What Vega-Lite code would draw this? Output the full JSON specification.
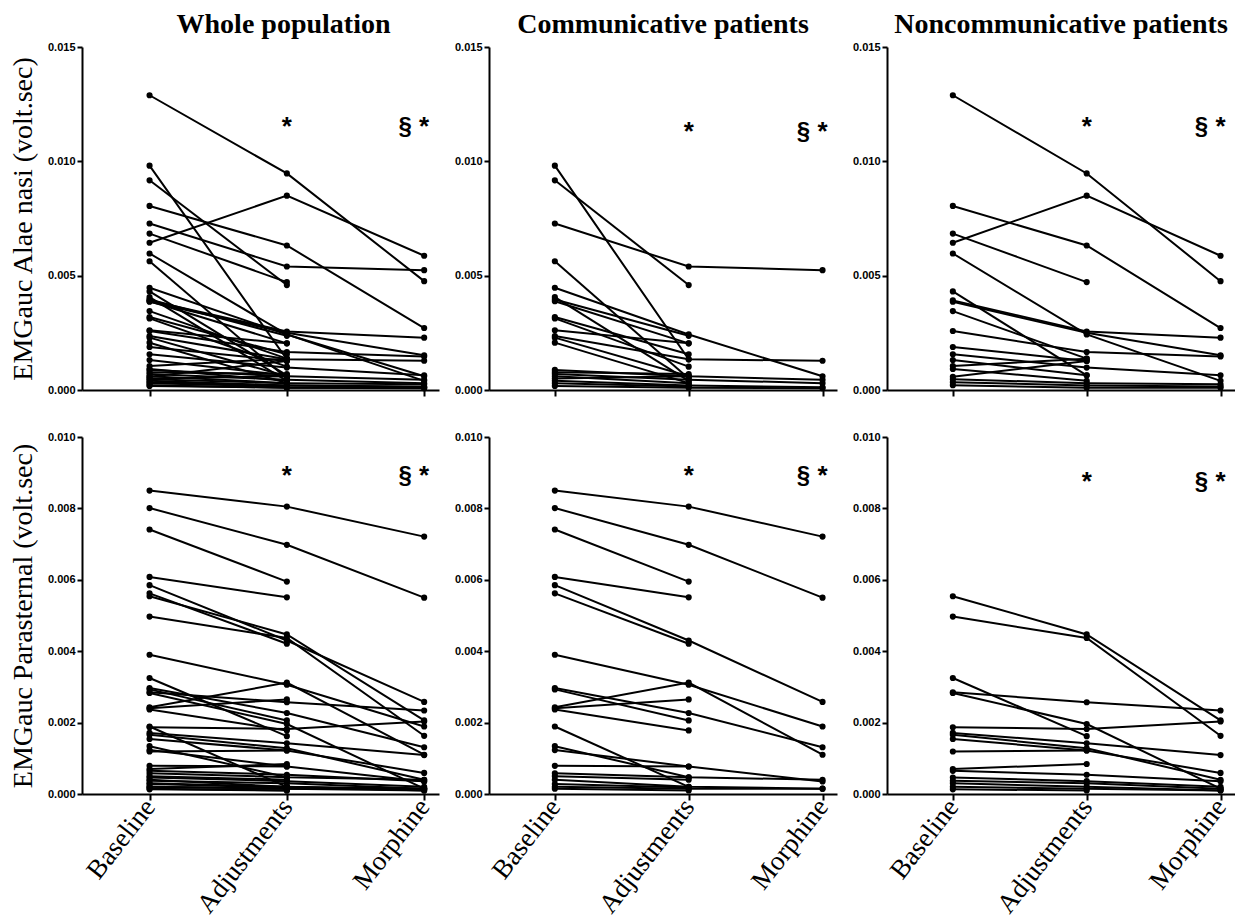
{
"$schema": "https://vega.github.io/schema/vega-lite/v6.json",
"padding": {"left": 9, "top": 11, "right": 0, "bottom": 0},
"background": "white",
"datasets": {
"emg": [
{"muscle":"Alae nasi","group":"Communicative","patient":"C01","phase":"Baseline","value":0.00981},
{"muscle":"Alae nasi","group":"Communicative","patient":"C01","phase":"Adjustments","value":0.00134},
{"muscle":"Alae nasi","group":"Communicative","patient":"C01","phase":"Morphine","value":0.00128},
{"muscle":"Alae nasi","group":"Communicative","patient":"C02","phase":"Baseline","value":0.00917},
{"muscle":"Alae nasi","group":"Communicative","patient":"C02","phase":"Adjustments","value":0.00459},
{"muscle":"Alae nasi","group":"Communicative","patient":"C03","phase":"Baseline","value":0.00728},
{"muscle":"Alae nasi","group":"Communicative","patient":"C03","phase":"Adjustments","value":0.0054},
{"muscle":"Alae nasi","group":"Communicative","patient":"C03","phase":"Morphine","value":0.00524},
{"muscle":"Alae nasi","group":"Communicative","patient":"C04","phase":"Baseline","value":0.00563},
{"muscle":"Alae nasi","group":"Communicative","patient":"C04","phase":"Adjustments","value":0.0005},
{"muscle":"Alae nasi","group":"Communicative","patient":"C05","phase":"Baseline","value":0.00447},
{"muscle":"Alae nasi","group":"Communicative","patient":"C05","phase":"Adjustments","value":0.00243},
{"muscle":"Alae nasi","group":"Communicative","patient":"C05","phase":"Morphine","value":0.0006},
{"muscle":"Alae nasi","group":"Communicative","patient":"C06","phase":"Baseline","value":0.00406},
{"muscle":"Alae nasi","group":"Communicative","patient":"C06","phase":"Adjustments","value":0.0004},
{"muscle":"Alae nasi","group":"Communicative","patient":"C07","phase":"Baseline","value":0.00396},
{"muscle":"Alae nasi","group":"Communicative","patient":"C07","phase":"Adjustments","value":0.00237},
{"muscle":"Alae nasi","group":"Communicative","patient":"C08","phase":"Baseline","value":0.00388},
{"muscle":"Alae nasi","group":"Communicative","patient":"C08","phase":"Adjustments","value":0.00204},
{"muscle":"Alae nasi","group":"Communicative","patient":"C09","phase":"Baseline","value":0.00319},
{"muscle":"Alae nasi","group":"Communicative","patient":"C09","phase":"Adjustments","value":0.00156},
{"muscle":"Alae nasi","group":"Communicative","patient":"C10","phase":"Baseline","value":0.00313},
{"muscle":"Alae nasi","group":"Communicative","patient":"C10","phase":"Adjustments","value":0.00102},
{"muscle":"Alae nasi","group":"Communicative","patient":"C11","phase":"Baseline","value":0.00261},
{"muscle":"Alae nasi","group":"Communicative","patient":"C11","phase":"Adjustments","value":0.00204},
{"muscle":"Alae nasi","group":"Communicative","patient":"C12","phase":"Baseline","value":0.00236},
{"muscle":"Alae nasi","group":"Communicative","patient":"C12","phase":"Adjustments","value":0.00134},
{"muscle":"Alae nasi","group":"Communicative","patient":"C13","phase":"Baseline","value":0.00229},
{"muscle":"Alae nasi","group":"Communicative","patient":"C13","phase":"Adjustments","value":0.0006},
{"muscle":"Alae nasi","group":"Communicative","patient":"C14","phase":"Baseline","value":0.00207},
{"muscle":"Alae nasi","group":"Communicative","patient":"C14","phase":"Adjustments","value":0.0003},
{"muscle":"Alae nasi","group":"Communicative","patient":"C15","phase":"Baseline","value":0.00088},
{"muscle":"Alae nasi","group":"Communicative","patient":"C15","phase":"Adjustments","value":0.0006},
{"muscle":"Alae nasi","group":"Communicative","patient":"C15","phase":"Morphine","value":0.00045},
{"muscle":"Alae nasi","group":"Communicative","patient":"C16","phase":"Baseline","value":0.00078},
{"muscle":"Alae nasi","group":"Communicative","patient":"C16","phase":"Adjustments","value":0.0007},
{"muscle":"Alae nasi","group":"Communicative","patient":"C17","phase":"Baseline","value":0.0007},
{"muscle":"Alae nasi","group":"Communicative","patient":"C17","phase":"Adjustments","value":0.00045},
{"muscle":"Alae nasi","group":"Communicative","patient":"C17","phase":"Morphine","value":0.0003},
{"muscle":"Alae nasi","group":"Communicative","patient":"C18","phase":"Baseline","value":0.0006},
{"muscle":"Alae nasi","group":"Communicative","patient":"C18","phase":"Adjustments","value":0.0003},
{"muscle":"Alae nasi","group":"Communicative","patient":"C19","phase":"Baseline","value":0.0005},
{"muscle":"Alae nasi","group":"Communicative","patient":"C19","phase":"Adjustments","value":0.0006},
{"muscle":"Alae nasi","group":"Communicative","patient":"C20","phase":"Baseline","value":0.0004},
{"muscle":"Alae nasi","group":"Communicative","patient":"C20","phase":"Adjustments","value":0.0002},
{"muscle":"Alae nasi","group":"Communicative","patient":"C20","phase":"Morphine","value":0.00012},
{"muscle":"Alae nasi","group":"Communicative","patient":"C21","phase":"Baseline","value":0.0003},
{"muscle":"Alae nasi","group":"Communicative","patient":"C21","phase":"Adjustments","value":0.00015},
{"muscle":"Alae nasi","group":"Communicative","patient":"C22","phase":"Baseline","value":0.00018},
{"muscle":"Alae nasi","group":"Communicative","patient":"C22","phase":"Adjustments","value":0.0001},
{"muscle":"Alae nasi","group":"Communicative","patient":"C22","phase":"Morphine","value":0.00008},
{"muscle":"Alae nasi","group":"Noncommunicative","patient":"N01","phase":"Baseline","value":0.01289},
{"muscle":"Alae nasi","group":"Noncommunicative","patient":"N01","phase":"Adjustments","value":0.00947},
{"muscle":"Alae nasi","group":"Noncommunicative","patient":"N01","phase":"Morphine","value":0.00476},
{"muscle":"Alae nasi","group":"Noncommunicative","patient":"N02","phase":"Baseline","value":0.00644},
{"muscle":"Alae nasi","group":"Noncommunicative","patient":"N02","phase":"Adjustments","value":0.0085},
{"muscle":"Alae nasi","group":"Noncommunicative","patient":"N02","phase":"Morphine","value":0.00587},
{"muscle":"Alae nasi","group":"Noncommunicative","patient":"N03","phase":"Baseline","value":0.00805},
{"muscle":"Alae nasi","group":"Noncommunicative","patient":"N03","phase":"Adjustments","value":0.00632},
{"muscle":"Alae nasi","group":"Noncommunicative","patient":"N03","phase":"Morphine","value":0.00271},
{"muscle":"Alae nasi","group":"Noncommunicative","patient":"N04","phase":"Baseline","value":0.00684},
{"muscle":"Alae nasi","group":"Noncommunicative","patient":"N04","phase":"Adjustments","value":0.00472},
{"muscle":"Alae nasi","group":"Noncommunicative","patient":"N05","phase":"Baseline","value":0.00597},
{"muscle":"Alae nasi","group":"Noncommunicative","patient":"N05","phase":"Adjustments","value":0.00243},
{"muscle":"Alae nasi","group":"Noncommunicative","patient":"N05","phase":"Morphine","value":0.0004},
{"muscle":"Alae nasi","group":"Noncommunicative","patient":"N06","phase":"Baseline","value":0.00431},
{"muscle":"Alae nasi","group":"Noncommunicative","patient":"N06","phase":"Adjustments","value":0.00064},
{"muscle":"Alae nasi","group":"Noncommunicative","patient":"N07","phase":"Baseline","value":0.00392},
{"muscle":"Alae nasi","group":"Noncommunicative","patient":"N07","phase":"Adjustments","value":0.00256},
{"muscle":"Alae nasi","group":"Noncommunicative","patient":"N07","phase":"Morphine","value":0.00229},
{"muscle":"Alae nasi","group":"Noncommunicative","patient":"N08","phase":"Baseline","value":0.00386},
{"muscle":"Alae nasi","group":"Noncommunicative","patient":"N08","phase":"Adjustments","value":0.0025},
{"muscle":"Alae nasi","group":"Noncommunicative","patient":"N08","phase":"Morphine","value":0.00152},
{"muscle":"Alae nasi","group":"Noncommunicative","patient":"N09","phase":"Baseline","value":0.00345},
{"muscle":"Alae nasi","group":"Noncommunicative","patient":"N09","phase":"Adjustments","value":0.00137},
{"muscle":"Alae nasi","group":"Noncommunicative","patient":"N10","phase":"Baseline","value":0.00258},
{"muscle":"Alae nasi","group":"Noncommunicative","patient":"N10","phase":"Adjustments","value":0.00166},
{"muscle":"Alae nasi","group":"Noncommunicative","patient":"N10","phase":"Morphine","value":0.00147},
{"muscle":"Alae nasi","group":"Noncommunicative","patient":"N11","phase":"Baseline","value":0.00188},
{"muscle":"Alae nasi","group":"Noncommunicative","patient":"N11","phase":"Adjustments","value":0.00127},
{"muscle":"Alae nasi","group":"Noncommunicative","patient":"N12","phase":"Baseline","value":0.00156},
{"muscle":"Alae nasi","group":"Noncommunicative","patient":"N12","phase":"Adjustments","value":0.00098},
{"muscle":"Alae nasi","group":"Noncommunicative","patient":"N12","phase":"Morphine","value":0.00064},
{"muscle":"Alae nasi","group":"Noncommunicative","patient":"N13","phase":"Baseline","value":0.00131},
{"muscle":"Alae nasi","group":"Noncommunicative","patient":"N13","phase":"Adjustments","value":0.00064},
{"muscle":"Alae nasi","group":"Noncommunicative","patient":"N14","phase":"Baseline","value":0.00105},
{"muscle":"Alae nasi","group":"Noncommunicative","patient":"N14","phase":"Adjustments","value":0.00137},
{"muscle":"Alae nasi","group":"Noncommunicative","patient":"N15","phase":"Baseline","value":0.00092},
{"muscle":"Alae nasi","group":"Noncommunicative","patient":"N15","phase":"Adjustments","value":0.0004},
{"muscle":"Alae nasi","group":"Noncommunicative","patient":"N16","phase":"Baseline","value":0.00058},
{"muscle":"Alae nasi","group":"Noncommunicative","patient":"N16","phase":"Adjustments","value":0.00127},
{"muscle":"Alae nasi","group":"Noncommunicative","patient":"N17","phase":"Baseline","value":0.00047},
{"muscle":"Alae nasi","group":"Noncommunicative","patient":"N17","phase":"Adjustments","value":0.0003},
{"muscle":"Alae nasi","group":"Noncommunicative","patient":"N17","phase":"Morphine","value":0.00025},
{"muscle":"Alae nasi","group":"Noncommunicative","patient":"N18","phase":"Baseline","value":0.00034},
{"muscle":"Alae nasi","group":"Noncommunicative","patient":"N18","phase":"Adjustments","value":0.0002},
{"muscle":"Alae nasi","group":"Noncommunicative","patient":"N18","phase":"Morphine","value":0.00015},
{"muscle":"Alae nasi","group":"Noncommunicative","patient":"N19","phase":"Baseline","value":0.00021},
{"muscle":"Alae nasi","group":"Noncommunicative","patient":"N19","phase":"Adjustments","value":0.0001},
{"muscle":"Alae nasi","group":"Noncommunicative","patient":"N19","phase":"Morphine","value":0.0001},
{"muscle":"Parasternal","group":"Communicative","patient":"C01","phase":"Baseline","value":0.0085},
{"muscle":"Parasternal","group":"Communicative","patient":"C01","phase":"Adjustments","value":0.00805},
{"muscle":"Parasternal","group":"Communicative","patient":"C01","phase":"Morphine","value":0.00721},
{"muscle":"Parasternal","group":"Communicative","patient":"C02","phase":"Baseline","value":0.00801},
{"muscle":"Parasternal","group":"Communicative","patient":"C02","phase":"Adjustments","value":0.00698},
{"muscle":"Parasternal","group":"Communicative","patient":"C02","phase":"Morphine","value":0.0055},
{"muscle":"Parasternal","group":"Communicative","patient":"C03","phase":"Baseline","value":0.00741},
{"muscle":"Parasternal","group":"Communicative","patient":"C03","phase":"Adjustments","value":0.00595},
{"muscle":"Parasternal","group":"Communicative","patient":"C04","phase":"Baseline","value":0.00608},
{"muscle":"Parasternal","group":"Communicative","patient":"C04","phase":"Adjustments","value":0.00551},
{"muscle":"Parasternal","group":"Communicative","patient":"C05","phase":"Baseline","value":0.00585},
{"muscle":"Parasternal","group":"Communicative","patient":"C05","phase":"Adjustments","value":0.0043},
{"muscle":"Parasternal","group":"Communicative","patient":"C05","phase":"Morphine","value":0.00258},
{"muscle":"Parasternal","group":"Communicative","patient":"C06","phase":"Baseline","value":0.00562},
{"muscle":"Parasternal","group":"Communicative","patient":"C06","phase":"Adjustments","value":0.00421},
{"muscle":"Parasternal","group":"Communicative","patient":"C07","phase":"Baseline","value":0.0039},
{"muscle":"Parasternal","group":"Communicative","patient":"C07","phase":"Adjustments","value":0.00306},
{"muscle":"Parasternal","group":"Communicative","patient":"C07","phase":"Morphine","value":0.00189},
{"muscle":"Parasternal","group":"Communicative","patient":"C08","phase":"Baseline","value":0.00297},
{"muscle":"Parasternal","group":"Communicative","patient":"C08","phase":"Adjustments","value":0.00227},
{"muscle":"Parasternal","group":"Communicative","patient":"C08","phase":"Morphine","value":0.00131},
{"muscle":"Parasternal","group":"Communicative","patient":"C09","phase":"Baseline","value":0.00293},
{"muscle":"Parasternal","group":"Communicative","patient":"C09","phase":"Adjustments","value":0.00206},
{"muscle":"Parasternal","group":"Communicative","patient":"C10","phase":"Baseline","value":0.00243},
{"muscle":"Parasternal","group":"Communicative","patient":"C10","phase":"Adjustments","value":0.00312},
{"muscle":"Parasternal","group":"Communicative","patient":"C10","phase":"Morphine","value":0.0011},
{"muscle":"Parasternal","group":"Communicative","patient":"C11","phase":"Baseline","value":0.0024},
{"muscle":"Parasternal","group":"Communicative","patient":"C11","phase":"Adjustments","value":0.00265},
{"muscle":"Parasternal","group":"Communicative","patient":"C12","phase":"Baseline","value":0.00237},
{"muscle":"Parasternal","group":"Communicative","patient":"C12","phase":"Adjustments","value":0.00178},
{"muscle":"Parasternal","group":"Communicative","patient":"C13","phase":"Baseline","value":0.00189},
{"muscle":"Parasternal","group":"Communicative","patient":"C13","phase":"Adjustments","value":0.0002},
{"muscle":"Parasternal","group":"Communicative","patient":"C14","phase":"Baseline","value":0.00134},
{"muscle":"Parasternal","group":"Communicative","patient":"C14","phase":"Adjustments","value":0.00047},
{"muscle":"Parasternal","group":"Communicative","patient":"C14","phase":"Morphine","value":0.0004},
{"muscle":"Parasternal","group":"Communicative","patient":"C15","phase":"Baseline","value":0.00123},
{"muscle":"Parasternal","group":"Communicative","patient":"C15","phase":"Adjustments","value":0.00077},
{"muscle":"Parasternal","group":"Communicative","patient":"C16","phase":"Baseline","value":0.00079},
{"muscle":"Parasternal","group":"Communicative","patient":"C16","phase":"Adjustments","value":0.00077},
{"muscle":"Parasternal","group":"Communicative","patient":"C16","phase":"Morphine","value":0.00035},
{"muscle":"Parasternal","group":"Communicative","patient":"C17","phase":"Baseline","value":0.00058},
{"muscle":"Parasternal","group":"Communicative","patient":"C17","phase":"Adjustments","value":0.00047},
{"muscle":"Parasternal","group":"Communicative","patient":"C18","phase":"Baseline","value":0.0005},
{"muscle":"Parasternal","group":"Communicative","patient":"C18","phase":"Adjustments","value":0.0004},
{"muscle":"Parasternal","group":"Communicative","patient":"C19","phase":"Baseline","value":0.0004},
{"muscle":"Parasternal","group":"Communicative","patient":"C19","phase":"Adjustments","value":0.0002},
{"muscle":"Parasternal","group":"Communicative","patient":"C19","phase":"Morphine","value":0.00015},
{"muscle":"Parasternal","group":"Communicative","patient":"C20","phase":"Baseline","value":0.00028},
{"muscle":"Parasternal","group":"Communicative","patient":"C20","phase":"Adjustments","value":0.00018},
{"muscle":"Parasternal","group":"Communicative","patient":"C21","phase":"Baseline","value":0.0002},
{"muscle":"Parasternal","group":"Communicative","patient":"C21","phase":"Adjustments","value":0.00015},
{"muscle":"Parasternal","group":"Communicative","patient":"C21","phase":"Morphine","value":0.00015},
{"muscle":"Parasternal","group":"Communicative","patient":"C22","phase":"Baseline","value":0.00015},
{"muscle":"Parasternal","group":"Communicative","patient":"C22","phase":"Adjustments","value":0.0001},
{"muscle":"Parasternal","group":"Noncommunicative","patient":"N01","phase":"Baseline","value":0.00554},
{"muscle":"Parasternal","group":"Noncommunicative","patient":"N01","phase":"Adjustments","value":0.00447},
{"muscle":"Parasternal","group":"Noncommunicative","patient":"N01","phase":"Morphine","value":0.00206},
{"muscle":"Parasternal","group":"Noncommunicative","patient":"N02","phase":"Baseline","value":0.00497},
{"muscle":"Parasternal","group":"Noncommunicative","patient":"N02","phase":"Adjustments","value":0.00437},
{"muscle":"Parasternal","group":"Noncommunicative","patient":"N02","phase":"Morphine","value":0.00163},
{"muscle":"Parasternal","group":"Noncommunicative","patient":"N03","phase":"Baseline","value":0.00325},
{"muscle":"Parasternal","group":"Noncommunicative","patient":"N03","phase":"Adjustments","value":0.00162},
{"muscle":"Parasternal","group":"Noncommunicative","patient":"N04","phase":"Baseline","value":0.00285},
{"muscle":"Parasternal","group":"Noncommunicative","patient":"N04","phase":"Adjustments","value":0.00257},
{"muscle":"Parasternal","group":"Noncommunicative","patient":"N04","phase":"Morphine","value":0.00234},
{"muscle":"Parasternal","group":"Noncommunicative","patient":"N05","phase":"Baseline","value":0.00283},
{"muscle":"Parasternal","group":"Noncommunicative","patient":"N05","phase":"Adjustments","value":0.00196},
{"muscle":"Parasternal","group":"Noncommunicative","patient":"N05","phase":"Morphine","value":0.00015},
{"muscle":"Parasternal","group":"Noncommunicative","patient":"N06","phase":"Baseline","value":0.00187},
{"muscle":"Parasternal","group":"Noncommunicative","patient":"N06","phase":"Adjustments","value":0.00182},
{"muscle":"Parasternal","group":"Noncommunicative","patient":"N06","phase":"Morphine","value":0.00203},
{"muscle":"Parasternal","group":"Noncommunicative","patient":"N07","phase":"Baseline","value":0.00171},
{"muscle":"Parasternal","group":"Noncommunicative","patient":"N07","phase":"Adjustments","value":0.00142},
{"muscle":"Parasternal","group":"Noncommunicative","patient":"N07","phase":"Morphine","value":0.00109},
{"muscle":"Parasternal","group":"Noncommunicative","patient":"N08","phase":"Baseline","value":0.00166},
{"muscle":"Parasternal","group":"Noncommunicative","patient":"N08","phase":"Adjustments","value":0.00128},
{"muscle":"Parasternal","group":"Noncommunicative","patient":"N08","phase":"Morphine","value":0.0004},
{"muscle":"Parasternal","group":"Noncommunicative","patient":"N09","phase":"Baseline","value":0.00154},
{"muscle":"Parasternal","group":"Noncommunicative","patient":"N09","phase":"Adjustments","value":0.00122},
{"muscle":"Parasternal","group":"Noncommunicative","patient":"N09","phase":"Morphine","value":0.00059},
{"muscle":"Parasternal","group":"Noncommunicative","patient":"N10","phase":"Baseline","value":0.00119},
{"muscle":"Parasternal","group":"Noncommunicative","patient":"N10","phase":"Adjustments","value":0.00122},
{"muscle":"Parasternal","group":"Noncommunicative","patient":"N11","phase":"Baseline","value":0.0007},
{"muscle":"Parasternal","group":"Noncommunicative","patient":"N11","phase":"Adjustments","value":0.00084},
{"muscle":"Parasternal","group":"Noncommunicative","patient":"N12","phase":"Baseline","value":0.00065},
{"muscle":"Parasternal","group":"Noncommunicative","patient":"N12","phase":"Adjustments","value":0.00054},
{"muscle":"Parasternal","group":"Noncommunicative","patient":"N12","phase":"Morphine","value":0.00036},
{"muscle":"Parasternal","group":"Noncommunicative","patient":"N13","phase":"Baseline","value":0.00046},
{"muscle":"Parasternal","group":"Noncommunicative","patient":"N13","phase":"Adjustments","value":0.00036},
{"muscle":"Parasternal","group":"Noncommunicative","patient":"N13","phase":"Morphine","value":0.0002},
{"muscle":"Parasternal","group":"Noncommunicative","patient":"N14","phase":"Baseline","value":0.00037},
{"muscle":"Parasternal","group":"Noncommunicative","patient":"N14","phase":"Adjustments","value":0.0003},
{"muscle":"Parasternal","group":"Noncommunicative","patient":"N14","phase":"Morphine","value":0.00015},
{"muscle":"Parasternal","group":"Noncommunicative","patient":"N15","phase":"Baseline","value":0.0003},
{"muscle":"Parasternal","group":"Noncommunicative","patient":"N15","phase":"Adjustments","value":0.0002},
{"muscle":"Parasternal","group":"Noncommunicative","patient":"N15","phase":"Morphine","value":0.0001},
{"muscle":"Parasternal","group":"Noncommunicative","patient":"N16","phase":"Baseline","value":0.0002},
{"muscle":"Parasternal","group":"Noncommunicative","patient":"N16","phase":"Adjustments","value":0.00015},
{"muscle":"Parasternal","group":"Noncommunicative","patient":"N16","phase":"Morphine","value":0.0001},
{"muscle":"Parasternal","group":"Noncommunicative","patient":"N17","phase":"Baseline","value":0.00013},
{"muscle":"Parasternal","group":"Noncommunicative","patient":"N17","phase":"Adjustments","value":0.0001}
]
},
"spacing": 34,
"resolve": {"scale": {"x": "independent", "y": "independent"}},
"vconcat": [
{
"spacing": 15,
"resolve": {"scale": {"x": "independent", "y": "independent"}},
"hconcat": [
{
"width": 357, "height": 343,
"title": {"text": "Whole population", "dx": 23},
"layer": [
{"data": {"name": "emg"}, "transform": [{"filter": "datum.muscle === 'Alae nasi'"}],
 "mark": {"type": "line", "color": "black", "strokeWidth": 2},
 "encoding": {
  "x": {"field": "phase", "type": "ordinal", "scale": {"type": "point", "domain": ["Baseline", "Adjustments", "Morphine"], "padding": 0.3, "align": 0.82}, "axis": {"labels": false, "title": null, "tickSize": 6}},
  "y": {"field": "value", "type": "quantitative", "scale": {"domain": [0, 0.015], "nice": false}, "axis": {"values": [0, 0.005, 0.01, 0.015], "format": ".3f", "title": "EMGauc Alae nasi (volt.sec)"}},
  "detail": {"field": "patient", "type": "nominal"}}},
{"data": {"name": "emg"}, "transform": [{"filter": "datum.muscle === 'Alae nasi'"}],
 "mark": {"type": "point", "filled": true, "color": "black", "size": 38, "opacity": 1},
 "encoding": {
  "x": {"field": "phase", "type": "ordinal"},
  "y": {"field": "value", "type": "quantitative"}}},
{"data": {"values": [{"phase": "Adjustments", "label": "*"}, {"phase": "Morphine", "label": "*"}]},
 "mark": {"type": "text", "font": "Liberation Sans", "fontWeight": "bold", "fontSize": 26, "color": "black", "baseline": "middle"},
 "encoding": {"x": {"field": "phase", "type": "ordinal"}, "y": {"datum": 0.0115, "type": "quantitative"}, "text": {"field": "label"}}},
{"data": {"values": [{"phase": "Morphine", "label": "§"}]},
 "mark": {"type": "text", "font": "Liberation Sans", "fontWeight": "bold", "fontSize": 24, "color": "black", "baseline": "middle", "dx": -19},
 "encoding": {"x": {"field": "phase", "type": "ordinal"}, "y": {"datum": 0.0115, "type": "quantitative"}, "text": {"field": "label"}}}
]
},
{
"width": 348, "height": 343,
"title": {"text": "Communicative patients"},
"layer": [
{"data": {"name": "emg"}, "transform": [{"filter": "datum.muscle === 'Alae nasi' && datum.group === 'Communicative'"}],
 "mark": {"type": "line", "color": "black", "strokeWidth": 2},
 "encoding": {
  "x": {"field": "phase", "type": "ordinal", "scale": {"type": "point", "domain": ["Baseline", "Adjustments", "Morphine"], "padding": 0.3, "align": 0.82}, "axis": {"labels": false, "title": null, "tickSize": 6}},
  "y": {"field": "value", "type": "quantitative", "scale": {"domain": [0, 0.015], "nice": false}, "axis": {"values": [0, 0.005, 0.01, 0.015], "format": ".3f", "title": null}},
  "detail": {"field": "patient", "type": "nominal"}}},
{"data": {"name": "emg"}, "transform": [{"filter": "datum.muscle === 'Alae nasi' && datum.group === 'Communicative'"}],
 "mark": {"type": "point", "filled": true, "color": "black", "size": 38, "opacity": 1},
 "encoding": {
  "x": {"field": "phase", "type": "ordinal"},
  "y": {"field": "value", "type": "quantitative"}}},
{"data": {"values": [{"phase": "Adjustments", "label": "*"}, {"phase": "Morphine", "label": "*"}]},
 "mark": {"type": "text", "font": "Liberation Sans", "fontWeight": "bold", "fontSize": 26, "color": "black", "baseline": "middle"},
 "encoding": {"x": {"field": "phase", "type": "ordinal"}, "y": {"datum": 0.0113, "type": "quantitative"}, "text": {"field": "label"}}},
{"data": {"values": [{"phase": "Morphine", "label": "§"}]},
 "mark": {"type": "text", "font": "Liberation Sans", "fontWeight": "bold", "fontSize": 24, "color": "black", "baseline": "middle", "dx": -19},
 "encoding": {"x": {"field": "phase", "type": "ordinal"}, "y": {"datum": 0.0113, "type": "quantitative"}, "text": {"field": "label"}}}
]
},
{
"width": 348, "height": 343,
"title": {"text": "Noncommunicative patients"},
"layer": [
{"data": {"name": "emg"}, "transform": [{"filter": "datum.muscle === 'Alae nasi' && datum.group === 'Noncommunicative'"}],
 "mark": {"type": "line", "color": "black", "strokeWidth": 2},
 "encoding": {
  "x": {"field": "phase", "type": "ordinal", "scale": {"type": "point", "domain": ["Baseline", "Adjustments", "Morphine"], "padding": 0.3, "align": 0.82}, "axis": {"labels": false, "title": null, "tickSize": 6}},
  "y": {"field": "value", "type": "quantitative", "scale": {"domain": [0, 0.015], "nice": false}, "axis": {"values": [0, 0.005, 0.01, 0.015], "format": ".3f", "title": null}},
  "detail": {"field": "patient", "type": "nominal"}}},
{"data": {"name": "emg"}, "transform": [{"filter": "datum.muscle === 'Alae nasi' && datum.group === 'Noncommunicative'"}],
 "mark": {"type": "point", "filled": true, "color": "black", "size": 38, "opacity": 1},
 "encoding": {
  "x": {"field": "phase", "type": "ordinal"},
  "y": {"field": "value", "type": "quantitative"}}},
{"data": {"values": [{"phase": "Adjustments", "label": "*"}, {"phase": "Morphine", "label": "*"}]},
 "mark": {"type": "text", "font": "Liberation Sans", "fontWeight": "bold", "fontSize": 26, "color": "black", "baseline": "middle"},
 "encoding": {"x": {"field": "phase", "type": "ordinal"}, "y": {"datum": 0.0115, "type": "quantitative"}, "text": {"field": "label"}}},
{"data": {"values": [{"phase": "Morphine", "label": "§"}]},
 "mark": {"type": "text", "font": "Liberation Sans", "fontWeight": "bold", "fontSize": 24, "color": "black", "baseline": "middle", "dx": -19},
 "encoding": {"x": {"field": "phase", "type": "ordinal"}, "y": {"datum": 0.0115, "type": "quantitative"}, "text": {"field": "label"}}}
]
}
]
},
{
"spacing": 15,
"resolve": {"scale": {"x": "independent", "y": "independent"}},
"hconcat": [
{
"width": 357, "height": 357,
"layer": [
{"data": {"name": "emg"}, "transform": [{"filter": "datum.muscle === 'Parasternal'"}],
 "mark": {"type": "line", "color": "black", "strokeWidth": 2},
 "encoding": {
  "x": {"field": "phase", "type": "ordinal", "scale": {"type": "point", "domain": ["Baseline", "Adjustments", "Morphine"], "padding": 0.3, "align": 0.82}, "axis": {"title": null, "tickSize": 6, "labelAngle": -52, "labelFont": "Liberation Serif", "labelFontWeight": "normal", "labelFontSize": 27, "labelPadding": 2}},
  "y": {"field": "value", "type": "quantitative", "scale": {"domain": [0, 0.01], "nice": false}, "axis": {"values": [0, 0.002, 0.004, 0.006, 0.008, 0.01], "format": ".3f", "title": "EMGauc Parasternal (volt.sec)"}},
  "detail": {"field": "patient", "type": "nominal"}}},
{"data": {"name": "emg"}, "transform": [{"filter": "datum.muscle === 'Parasternal'"}],
 "mark": {"type": "point", "filled": true, "color": "black", "size": 38, "opacity": 1},
 "encoding": {
  "x": {"field": "phase", "type": "ordinal"},
  "y": {"field": "value", "type": "quantitative"}}},
{"data": {"values": [{"phase": "Adjustments", "label": "*"}, {"phase": "Morphine", "label": "*"}]},
 "mark": {"type": "text", "font": "Liberation Sans", "fontWeight": "bold", "fontSize": 26, "color": "black", "baseline": "middle"},
 "encoding": {"x": {"field": "phase", "type": "ordinal"}, "y": {"datum": 0.0089, "type": "quantitative"}, "text": {"field": "label"}}},
{"data": {"values": [{"phase": "Morphine", "label": "§"}]},
 "mark": {"type": "text", "font": "Liberation Sans", "fontWeight": "bold", "fontSize": 24, "color": "black", "baseline": "middle", "dx": -19},
 "encoding": {"x": {"field": "phase", "type": "ordinal"}, "y": {"datum": 0.0089, "type": "quantitative"}, "text": {"field": "label"}}}
]
},
{
"width": 348, "height": 357,
"layer": [
{"data": {"name": "emg"}, "transform": [{"filter": "datum.muscle === 'Parasternal' && datum.group === 'Communicative'"}],
 "mark": {"type": "line", "color": "black", "strokeWidth": 2},
 "encoding": {
  "x": {"field": "phase", "type": "ordinal", "scale": {"type": "point", "domain": ["Baseline", "Adjustments", "Morphine"], "padding": 0.3, "align": 0.82}, "axis": {"title": null, "tickSize": 6, "labelAngle": -52, "labelFont": "Liberation Serif", "labelFontWeight": "normal", "labelFontSize": 27, "labelPadding": 2}},
  "y": {"field": "value", "type": "quantitative", "scale": {"domain": [0, 0.01], "nice": false}, "axis": {"values": [0, 0.002, 0.004, 0.006, 0.008, 0.01], "format": ".3f", "title": null}},
  "detail": {"field": "patient", "type": "nominal"}}},
{"data": {"name": "emg"}, "transform": [{"filter": "datum.muscle === 'Parasternal' && datum.group === 'Communicative'"}],
 "mark": {"type": "point", "filled": true, "color": "black", "size": 38, "opacity": 1},
 "encoding": {
  "x": {"field": "phase", "type": "ordinal"},
  "y": {"field": "value", "type": "quantitative"}}},
{"data": {"values": [{"phase": "Adjustments", "label": "*"}, {"phase": "Morphine", "label": "*"}]},
 "mark": {"type": "text", "font": "Liberation Sans", "fontWeight": "bold", "fontSize": 26, "color": "black", "baseline": "middle"},
 "encoding": {"x": {"field": "phase", "type": "ordinal"}, "y": {"datum": 0.0089, "type": "quantitative"}, "text": {"field": "label"}}},
{"data": {"values": [{"phase": "Morphine", "label": "§"}]},
 "mark": {"type": "text", "font": "Liberation Sans", "fontWeight": "bold", "fontSize": 24, "color": "black", "baseline": "middle", "dx": -19},
 "encoding": {"x": {"field": "phase", "type": "ordinal"}, "y": {"datum": 0.0089, "type": "quantitative"}, "text": {"field": "label"}}}
]
},
{
"width": 348, "height": 357,
"layer": [
{"data": {"name": "emg"}, "transform": [{"filter": "datum.muscle === 'Parasternal' && datum.group === 'Noncommunicative'"}],
 "mark": {"type": "line", "color": "black", "strokeWidth": 2},
 "encoding": {
  "x": {"field": "phase", "type": "ordinal", "scale": {"type": "point", "domain": ["Baseline", "Adjustments", "Morphine"], "padding": 0.3, "align": 0.82}, "axis": {"title": null, "tickSize": 6, "labelAngle": -52, "labelFont": "Liberation Serif", "labelFontWeight": "normal", "labelFontSize": 27, "labelPadding": 2}},
  "y": {"field": "value", "type": "quantitative", "scale": {"domain": [0, 0.01], "nice": false}, "axis": {"values": [0, 0.002, 0.004, 0.006, 0.008, 0.01], "format": ".3f", "title": null}},
  "detail": {"field": "patient", "type": "nominal"}}},
{"data": {"name": "emg"}, "transform": [{"filter": "datum.muscle === 'Parasternal' && datum.group === 'Noncommunicative'"}],
 "mark": {"type": "point", "filled": true, "color": "black", "size": 38, "opacity": 1},
 "encoding": {
  "x": {"field": "phase", "type": "ordinal"},
  "y": {"field": "value", "type": "quantitative"}}},
{"data": {"values": [{"phase": "Adjustments", "label": "*"}, {"phase": "Morphine", "label": "*"}]},
 "mark": {"type": "text", "font": "Liberation Sans", "fontWeight": "bold", "fontSize": 26, "color": "black", "baseline": "middle"},
 "encoding": {"x": {"field": "phase", "type": "ordinal"}, "y": {"datum": 0.00873, "type": "quantitative"}, "text": {"field": "label"}}},
{"data": {"values": [{"phase": "Morphine", "label": "§"}]},
 "mark": {"type": "text", "font": "Liberation Sans", "fontWeight": "bold", "fontSize": 24, "color": "black", "baseline": "middle", "dx": -19},
 "encoding": {"x": {"field": "phase", "type": "ordinal"}, "y": {"datum": 0.00873, "type": "quantitative"}, "text": {"field": "label"}}}
]
}
]
}
],
"config": {
 "view": {"stroke": null},
 "axis": {"grid": false, "domainColor": "black", "domainWidth": 2, "tickColor": "black", "tickWidth": 2, "tickSize": 5, "labelColor": "black", "labelFont": "Liberation Sans", "labelFontWeight": "bold", "labelFontSize": 11, "titleFont": "Liberation Serif", "titleFontWeight": "normal", "titleFontSize": 28, "titleColor": "black", "titlePadding": 10},
 "title": {"font": "Liberation Serif", "fontSize": 28, "fontWeight": "bold", "color": "black", "offset": 2}
}
}
